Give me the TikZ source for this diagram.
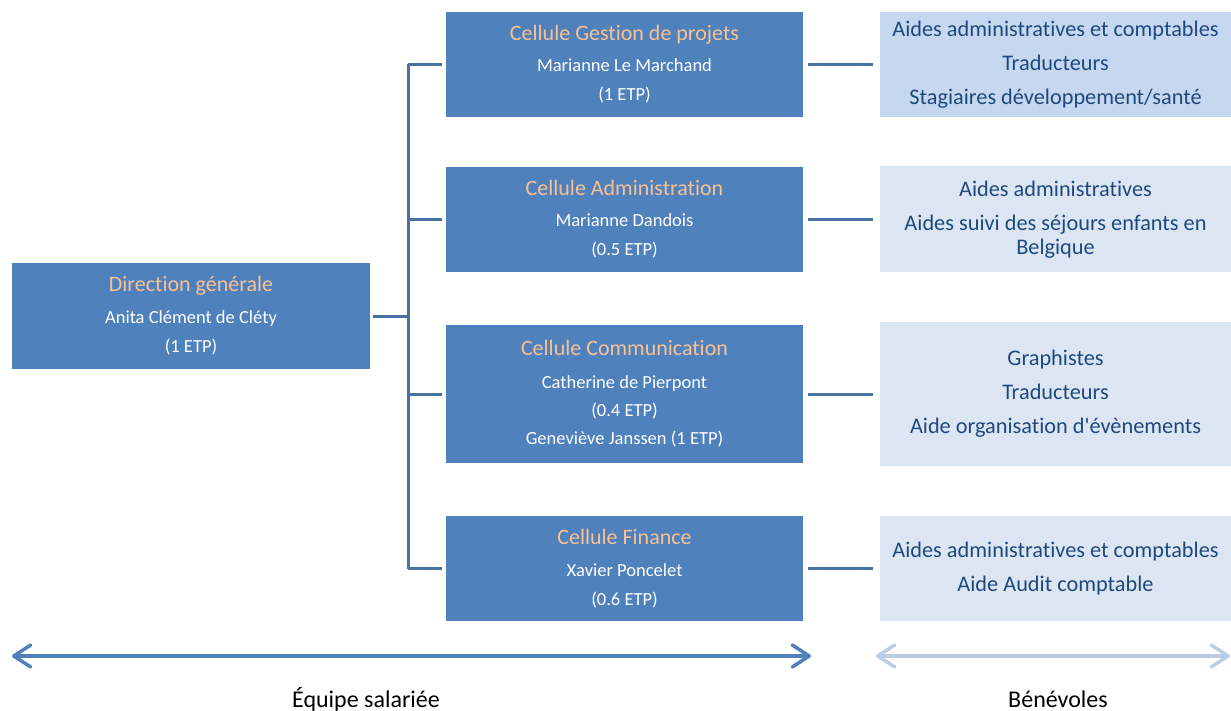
\documentclass[tikz,border=0pt]{standalone}
\usepackage{fontspec}
\setmainfont{Carlito}[Ligatures={NoCommon}]
\usetikzlibrary{positioning,arrows.meta}
\definecolor{cellblue}{HTML}{4F81BD}
\definecolor{linkblue}{HTML}{4A71A3}
\definecolor{titleorange}{HTML}{FAC090}
\definecolor{aidetext}{HTML}{1F497D}
\definecolor{aidefillA}{HTML}{C6D8EF}
\definecolor{aidefillB}{HTML}{DCE6F2}
\definecolor{paleblue}{HTML}{B9CDE5}
\newcommand{\titre}[1]{{\color{titleorange}\fontsize{22}{29}\selectfont #1}}

\begin{document}
\begin{tikzpicture}[x=1pt,y=-1pt,
    cell/.style={fill=cellblue,text=white,align=center,inner sep=0pt,
        minimum width=357pt,minimum height=105pt,font=\fontsize{18.5}{29}\selectfont},
    aide/.style={fill=aidefillB,text=aidetext,align=center,inner sep=0pt,
        minimum width=351pt,minimum height=105pt,font=\fontsize{22.3}{24}\selectfont},
    link/.style={draw=linkblue,line width=3pt},
    span/.style={line width=3.5pt,{Straight Barb[length=17pt,width=22pt,round]}-{Straight Barb[length=17pt,width=22pt,round]}},
    caption/.style={font=\fontsize{24}{28}\selectfont,text=black}]
    \useasboundingbox (0,0) rectangle (1231,711);

    % salaried team
    \node[cell,minimum width=358pt,minimum height=106pt] (dg) at (191,316)
        {\titre{Direction générale}\\[3pt] Anita Clément de Cléty\\ (1 ETP)};
    \node[cell] (c1) at (624.5,64.5)
        {\titre{Cellule Gestion de projets}\\[2pt] Marianne Le Marchand\\ (1 ETP)};
    \node[cell] (c2) at (624.5,219.5)
        {\titre{Cellule Administration}\\[2pt] Marianne Dandois\\ (0.5 ETP)};
    \node[cell,minimum height=138pt] (c3) at (624.5,394)
        {\titre{Cellule Communication}\\[4pt] Catherine de Pierpont\\[-1pt] (0.4 ETP)\\[-1pt] Geneviève Janssen (1 ETP)};
    \node[cell] (c4) at (624.5,568.5)
        {\titre{Cellule Finance}\\[3pt] Xavier Poncelet\\ (0.6 ETP)};

    % volunteers
    \node[aide,fill=aidefillA] (r1) at (1055.5,64.5)
        {Aides administratives et comptables\\[10pt] Traducteurs\\[10pt] Stagiaires développement/santé};
    \node[aide,minimum height=106pt] (r2) at (1055.5,219.5)
        {Aides administratives\\[10pt] Aides suivi des séjours enfants en\\ Belgique};
    \node[aide,minimum height=144pt] (r3) at (1055.5,394)
        {Graphistes\\[10pt] Traducteurs\\[10pt] Aide organisation d\textquotesingle évènements};
    \node[aide] (r4) at (1055.5,568.5)
        {Aides administratives et comptables\\[10pt] Aide Audit comptable};

    % tree
    \coordinate (j) at (408,316);
    \draw[link,shorten <=3pt] (dg) -- (j);
    \draw[link] (c1.west -| j) -- (c4.west -| j);
    \foreach \c in {c1,c2,c3,c4}{
        \draw[link,shorten >=4pt] (\c.west -| j) -- (\c);
    }
    \foreach \c/\r in {c1/r1,c2/r2,c3/r3,c4/r4}{
        \draw[link,shorten <=5pt,shorten >=7pt] (\c) -- (\r);
    }

    % bottom spans
    \coordinate (sa) at (12,656);
    \coordinate (sb) at (811,656);
    \coordinate (va) at (876,656);
    \coordinate (vb) at (1230,656);
    \draw[span,draw=cellblue] (sa) -- (sb);
    \draw[span,draw=paleblue] (va) -- (vb);
    \node[caption] (eq) at (366,699) {Équipe salariée};
    \node[caption] (bv) at (1058,699) {Bénévoles};
\end{tikzpicture}
\end{document}
